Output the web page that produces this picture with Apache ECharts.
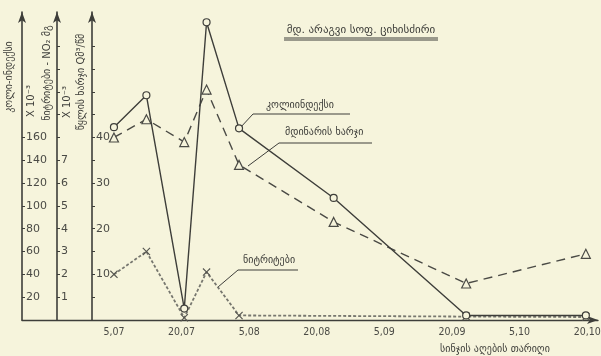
<!DOCTYPE html>
<html>
<head>
<meta charset="utf-8">
<script src="https://cdn.jsdelivr.net/npm/echarts@6/dist/echarts.min.js"></script>
<style>
  html, body { margin: 0; padding: 0; background: #f6f4dc; }
  #chart { width: 601px; height: 356px; }
</style>
</head>
<body>
<div id="chart"></div>
<script>
// sampling dates: 0 = 5,07 ... 7 = 20,10
const dateLabels = ["5,07", "20,07", "5,08", "20,08", "5,09", "20,09", "5,10", "20,10"];
const dateTicks = [0, 1, 2, 3, 4, 5, 6, 7];
const sampleX = [0, 0.48, 1.04, 1.37, 1.85, 3.25, 5.21, 6.98];

const coliIndex = [169, 197, 10, 261, 168, 107, 4, 4];
const discharge = [40, 44, 39, 50.5, 34, 21.5, 8, 14.5];
const nitrites = [2.0, 3.0, 0.1, 2.1, 0.2, null, 0.15, 0.13];

const coliTicks = [20, 40, 60, 80, 100, 120, 140, 160];
const nitriteTicks = [1, 2, 3, 4, 5, 6, 7, 8, 9, 10, 11, 12];
const nitriteLabels = [1, 2, 3, 4, 5, 6, 7];
const dischargeTicks = [5, 10, 15, 20, 25, 30, 35, 40, 45, 50, 55, 60];
const dischargeLabels = [10, 20, 30, 40];

const ink = "#3e3e3a";
const paper = "#f6f4dc";
const font = "DejaVu Sans";

function pairs(ys) {
  return sampleX.map((x, i) => [x, ys[i]]);
}

function yAxisOf(max, offset, ticks, labels) {
  return {
    type: "value",
    position: "left",
    offset: offset,
    min: 0,
    max: max,
    splitLine: { show: false },
    axisLine: {
      show: true,
      onZero: false,
      symbol: ["none", "arrow"],
      symbolSize: [6, 11],
      lineStyle: { color: ink, width: 1.6 },
    },
    axisTick: {
      show: true,
      inside: true,
      length: 3,
      customValues: ticks,
      lineStyle: { color: ink },
    },
    axisLabel: {
      show: true,
      inside: true,
      margin: 4,
      customValues: labels,
      fontFamily: font,
      fontSize: 11,
      color: "#4a4a45",
    },
  };
}

const chart = echarts.init(document.getElementById("chart"));

chart.setOption({
  backgroundColor: paper,
  animation: false,
  grid: { left: 22, right: 3, top: 12, bottom: 36, outerBoundsMode: "none" },
  xAxis: {
    type: "value",
    min: -1.36,
    max: 7.16,
    splitLine: { show: false },
    axisLine: {
      onZero: false,
      symbol: ["none", "arrow"],
      symbolSize: [6, 11],
      lineStyle: { color: ink, width: 1.4 },
    },
    axisTick: { show: false },
    axisLabel: {
      customValues: dateTicks,
      formatter: (v) => dateLabels[Math.round(v)],
      margin: 7,
      fontFamily: "DejaVu Sans Condensed",
      fontSize: 10.5,
      color: "#4a4a45",
    },
  },
  yAxis: [
    yAxisOf(270, 0, coliTicks, coliTicks),
    yAxisOf(13.5, -35, nitriteTicks, nitriteLabels),
    yAxisOf(67.5, -70, dischargeTicks, dischargeLabels),
  ],
  series: [
    {
      name: "კოლიინდექსი",
      type: "line",
      yAxisIndex: 0,
      data: pairs(coliIndex),
      symbol: "circle",
      symbolSize: 7,
      itemStyle: { color: paper, borderColor: ink, borderWidth: 1.2 },
      lineStyle: { color: ink, width: 1.4 },
      z: 4,
    },
    {
      name: "მდინარის ხარჯი",
      type: "line",
      yAxisIndex: 2,
      data: pairs(discharge),
      symbol: "triangle",
      symbolSize: 9,
      itemStyle: { color: paper, borderColor: "#4a4a45", borderWidth: 1.2 },
      lineStyle: { color: "#4a4a45", width: 1.4, type: [9, 6] },
      z: 3,
    },
    {
      name: "ნიტრიტები",
      type: "line",
      yAxisIndex: 1,
      data: pairs(nitrites),
      connectNulls: true,
      symbol: "path://M0,1L1,0L5,4L9,0L10,1L6,5L10,9L9,10L5,6L1,10L0,9L4,5Z",
      symbolSize: 8,
      itemStyle: { color: "#55554f" },
      lineStyle: { color: "#77776f", width: 1.8, type: [3, 2] },
      z: 2,
    },
  ],
  graphic: [
    // title with double underline
    { type: "text", x: 361, y: 30, style: { text: "მდ. არაგვი სოფ. ციხისძირი", font: "11px DejaVu Sans", fill: ink, align: "center", verticalAlign: "middle" } },
    { type: "line", shape: { x1: 284, y1: 38, x2: 438, y2: 38 }, style: { stroke: ink, lineWidth: 1 } },
    { type: "line", shape: { x1: 284, y1: 40, x2: 438, y2: 40 }, style: { stroke: ink, lineWidth: 1 } },

    // axis names
    { type: "text", x: 9, y: 77, rotation: Math.PI / 2, style: { text: "კოლი-ინდექსი", font: "10px DejaVu Sans", fill: ink, align: "center", verticalAlign: "middle" } },
    { type: "text", x: 31, y: 101, rotation: Math.PI / 2, style: { text: "X 10⁻³", font: "10px DejaVu Sans", fill: ink, align: "center", verticalAlign: "middle" } },
    { type: "text", x: 47, y: 73, rotation: Math.PI / 2, style: { text: "ნიტრიტები - NO₂ მგ", font: "10px DejaVu Sans", fill: ink, align: "center", verticalAlign: "middle" } },
    { type: "text", x: 67, y: 102, rotation: Math.PI / 2, style: { text: "X 10⁻³", font: "10px DejaVu Sans", fill: ink, align: "center", verticalAlign: "middle" } },
    { type: "text", x: 81, y: 82, rotation: Math.PI / 2, style: { text: "წყლის ხარჯი Qმ³/წმ", font: "10px DejaVu Sans", fill: ink, align: "center", verticalAlign: "middle" } },

    // x axis name
    { type: "text", x: 495, y: 349, style: { text: "სინჯის აღების თარიღი", font: "10px DejaVu Sans", fill: ink, align: "center", verticalAlign: "middle" } },

    // series annotations
    { type: "text", x: 266, y: 105, style: { text: "კოლიინდექსი", font: "10px DejaVu Sans", fill: ink, verticalAlign: "middle" } },
    { type: "polyline", shape: { points: [[240, 128], [253, 114], [350, 114]] }, style: { stroke: ink, lineWidth: 1, fill: null } },
    { type: "text", x: 285, y: 132, style: { text: "მდინარის ხარჯი", font: "10px DejaVu Sans", fill: ink, verticalAlign: "middle" } },
    { type: "polyline", shape: { points: [[248, 166], [279, 143], [372, 143]] }, style: { stroke: ink, lineWidth: 1, fill: null } },
    { type: "text", x: 243, y: 260, style: { text: "ნიტრიტები", font: "10px DejaVu Sans", fill: ink, verticalAlign: "middle" } },
    { type: "polyline", shape: { points: [[218, 287], [238, 270], [298, 270]] }, style: { stroke: ink, lineWidth: 1, fill: null } },
  ],
});
</script>
</body>
</html>
